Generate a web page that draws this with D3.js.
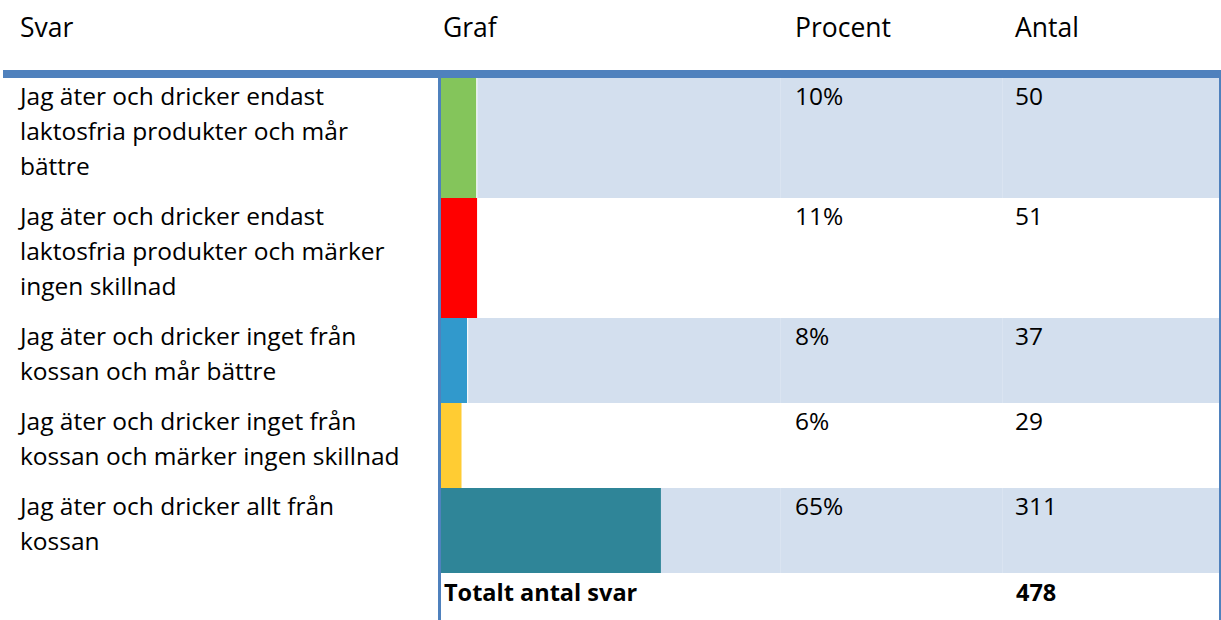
<!DOCTYPE html>
<html>
<head>
<meta charset="utf-8">
<script src="https://cdn.jsdelivr.net/npm/d3@7"></script>
<style>
  html, body { margin: 0; padding: 0; background: #fff; }
  svg { display: block; }
  text { font-family: "Open Sans", Lato, sans-serif; fill: #000; }
</style>
</head>
<body>
<svg id="chart" width="1221" height="620"></svg>
<script>
// Survey answers (each answer split into its printed lines)
const answers = [
  ["Jag äter och dricker endast", "laktosfria produkter och mår", "bättre"],
  ["Jag äter och dricker endast", "laktosfria produkter och märker", "ingen skillnad"],
  ["Jag äter och dricker inget från", "kossan och mår bättre"],
  ["Jag äter och dricker inget från", "kossan och märker ingen skillnad"],
  ["Jag äter och dricker allt från", "kossan"]
];
const percents = [10, 11, 8, 6, 65];
const counts = [50, 51, 37, 29, 311];
const barColors = ["#84c55b", "#ff0000", "#3199cc", "#ffcc33", "#2f8598"];
const headers = ["Svar", "Graf", "Procent", "Antal"];
const totalLabel = "Totalt antal svar";
const total = 478;

const svg = d3.select("#chart");

// Column positions
const colSvar = 20, colGraf = 441, colProc = 795, colAntal = 1015, tableRight = 1220;
const tableTop = 78, lineH = 35, rowPad = 15;
const fs = 24.5;

// Row heights follow the number of text lines in each answer
const rowHeights = answers.map(a => rowPad + lineH * a.length);
const rowTops = [];
rowHeights.reduce((acc, h, i) => { rowTops[i] = acc; return acc + h; }, tableTop);
const totalTop = rowTops[rowTops.length - 1] + rowHeights[rowHeights.length - 1];

// Bar length scale based on share of all answers
const x = d3.scaleLinear().domain([0, total]).range([0, 338]);

// Header row
svg.selectAll("text.head").data(headers).join("text")
  .attr("class", "head")
  .attr("x", (d, i) => [colSvar, 443, colProc, colAntal][i])
  .attr("y", 37)
  .attr("font-size", 26.5)
  .text(d => d);

// Banded backgrounds on alternating rows
const rows = svg.append("g");
answers.forEach((a, i) => {
  if (i % 2 !== 0) return;
  const g = rows.append("g");
  g.append("rect")
    .attr("x", colGraf).attr("y", rowTops[i])
    .attr("width", tableRight - colGraf).attr("height", rowHeights[i])
    .attr("fill", "#d3dfee");
  // faint cell separators inside banded rows
  [780, 1002].forEach(cx => {
    g.append("line")
      .attr("x1", cx + 0.5).attr("x2", cx + 0.5)
      .attr("y1", rowTops[i]).attr("y2", rowTops[i] + rowHeights[i])
      .attr("stroke", "#dae4f1").attr("stroke-width", 1);
  });
});

// Bars
const bars = svg.append("g").selectAll("g").data(counts).join("g");
bars.append("rect")
  .attr("x", colGraf)
  .attr("y", (d, i) => rowTops[i])
  .attr("width", d => x(d))
  .attr("height", (d, i) => rowHeights[i])
  .attr("fill", (d, i) => barColors[i]);
// thin white gap right of the short bars in banded rows
bars.filter((d, i) => i % 2 === 0 && i < 4).each(function (d) {
  const i = counts.indexOf(d);
  d3.select(this).append("line")
    .attr("x1", colGraf + x(d) + 0.5).attr("x2", colGraf + x(d) + 0.5)
    .attr("y1", rowTops[i]).attr("y2", rowTops[i] + rowHeights[i])
    .attr("stroke", "#fff").attr("stroke-width", 1);
});

// Answer labels
const labels = svg.append("g");
answers.forEach((lines, i) => {
  const t = labels.append("text").attr("font-size", fs);
  lines.forEach((ln, j) => {
    t.append("tspan").attr("x", colSvar).attr("y", rowTops[i] + 27 + j * lineH).text(ln);
  });
});

// Percent and count values
svg.append("g").selectAll("text").data(percents).join("text")
  .attr("x", colProc).attr("y", (d, i) => rowTops[i] + 27)
  .attr("font-size", fs)
  .text(d => d + "%");
svg.append("g").selectAll("text").data(counts).join("text")
  .attr("x", colAntal).attr("y", (d, i) => rowTops[i] + 27)
  .attr("font-size", fs)
  .text(d => d);

// Total row
svg.append("text").attr("x", 444).attr("y", totalTop + 28)
  .attr("font-size", 23.5).attr("font-weight", "bold").text(totalLabel);
svg.append("text").attr("x", colAntal + 1).attr("y", totalTop + 28)
  .attr("font-size", 23.5).attr("font-weight", "bold").text(total);

// Table rules
svg.append("rect").attr("x", 3).attr("y", 70).attr("width", 1218).attr("height", 8).attr("fill", "#4f81bd");
svg.append("rect").attr("x", 438).attr("y", 78).attr("width", 3).attr("height", 542).attr("fill", "#4f81bd");
svg.append("rect").attr("x", 1219).attr("y", 78).attr("width", 2).attr("height", 542).attr("fill", "#4f81bd");
</script>
</body>
</html>
